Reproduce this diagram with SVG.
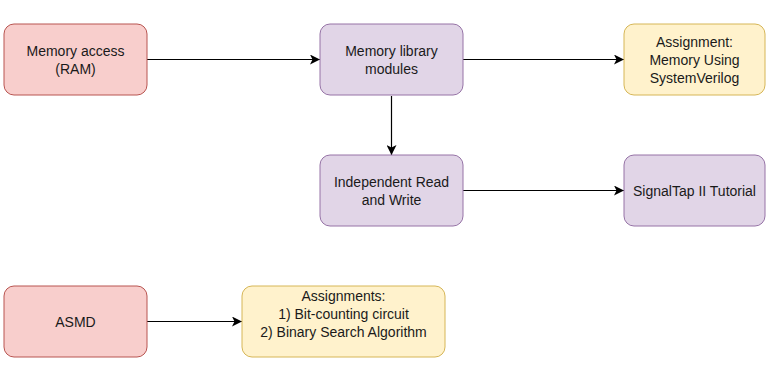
<svg xmlns="http://www.w3.org/2000/svg" width="767" height="371" viewBox="0 0 767 371">
<defs>
<marker id="arr" viewBox="0 0 10 10" refX="10" refY="5" markerWidth="10" markerHeight="10" markerUnits="userSpaceOnUse" orient="auto">
<path d="M0,0 L10,5 L0,10 L2.5,5 Z" fill="#000"/>
</marker>
<style>
.red{fill:#f8cecc;stroke:#b85450;stroke-width:1}
.pur{fill:#e1d5e7;stroke:#9673a6;stroke-width:1}
.yel{fill:#fff2cc;stroke:#d6b656;stroke-width:1}
text{font-family:"Liberation Sans",Arial,sans-serif;font-size:14px;fill:#1a1a1a;text-anchor:middle}
.edge{stroke:#000;stroke-width:1.2;fill:none;marker-end:url(#arr)}
</style>
</defs>
<rect width="767" height="371" fill="#fff"/>
<g id="connectors">
<path class="edge" d="M147,59.5 L320,59.5"/>
<path class="edge" d="M463,59.5 L624,59.5"/>
<path class="edge" d="M391.5,96 L391.5,155"/>
<path class="edge" d="M463,190.5 L624,190.5"/>
<path class="edge" d="M147,321.5 L242,321.5"/>
</g>
<g id="memory-access">
<rect class="red" x="4" y="24" width="143" height="71" rx="10"/>
<text x="75.5" y="56">Memory access</text>
<text x="75.5" y="74">(RAM)</text>
</g>
<g id="memory-library">
<rect class="pur" x="320" y="24" width="143" height="71" rx="10"/>
<text x="391.5" y="56">Memory library</text>
<text x="391.5" y="74">modules</text>
</g>
<g id="assignment-memory">
<rect class="yel" x="624" y="24" width="141" height="71" rx="10"/>
<text x="694.5" y="47">Assignment:</text>
<text x="694.5" y="65">Memory Using</text>
<text x="694.5" y="83">SystemVerilog</text>
</g>
<g id="independent-rw">
<rect class="pur" x="320" y="155" width="143" height="71" rx="10"/>
<text x="391.5" y="187">Independent Read</text>
<text x="391.5" y="205">and Write</text>
</g>
<g id="signaltap">
<rect class="pur" x="624" y="155" width="141" height="71" rx="10"/>
<text x="694.5" y="195.5">SignalTap II Tutorial</text>
</g>
<g id="asmd">
<rect class="red" x="4" y="286" width="143" height="71" rx="10"/>
<text x="75.5" y="326.5">ASMD</text>
</g>
<g id="assignments-asmd">
<rect class="yel" x="242" y="286" width="203" height="71" rx="10"/>
<text x="343.5" y="301">Assignments:</text>
<text x="343.5" y="319">1) Bit-counting circuit</text>
<text x="343.5" y="337">2) Binary Search Algorithm</text>
</g>
</svg>
